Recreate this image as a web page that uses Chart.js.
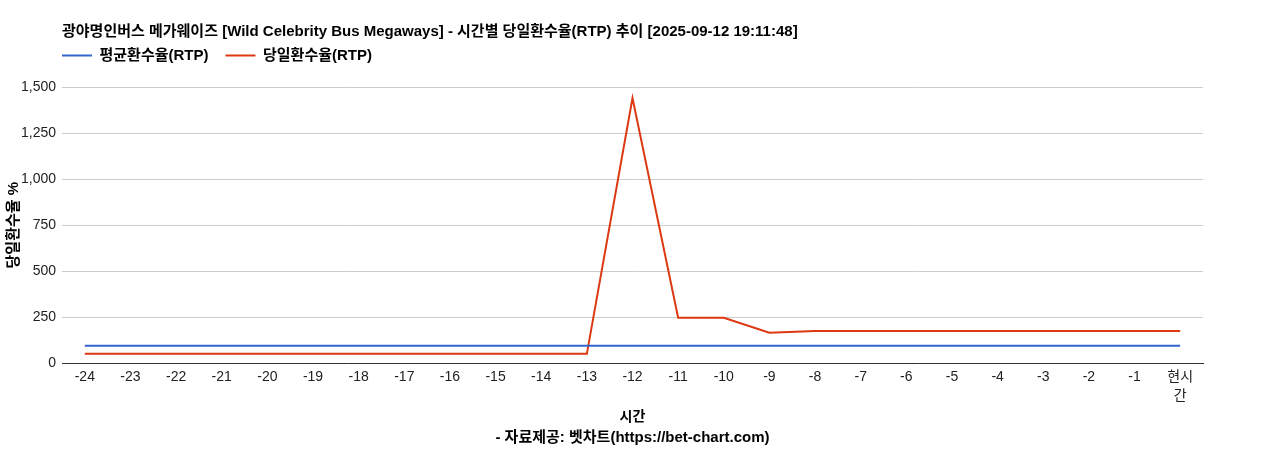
<!DOCTYPE html>
<html>
<head>
<meta charset="utf-8">
<script src="https://cdn.jsdelivr.net/npm/chart.js@4"></script>
<style>
  body { margin: 0; background: #fff; }
  #wrap { width: 1268px; height: 450px; }
</style>
</head>
<body>
<div id="wrap"><canvas id="rtpChart" width="1268" height="450"></canvas></div>
<script>
const hours = ["-24", "-23", "-22", "-21", "-20", "-19", "-18", "-17", "-16", "-15", "-14", "-13",
  "-12", "-11", "-10", "-9", "-8", "-7", "-6", "-5", "-4", "-3", "-2", "-1", ["현시", "간"]];
const avgRtp = [96, 96, 96, 96, 96, 96, 96, 96, 96, 96, 96, 96,
  96, 96, 96, 96, 96, 96, 96, 96, 96, 96, 95.5, 95.5, 95.5];
const dailyRtp = [52, 52, 52, 52, 52, 52, 52, 52, 52, 52, 52, 52,
  1440, 248, 248, 167, 176, 176, 176, 176, 176, 176, 176, 176, 176];
const yTicks = [0, 250, 500, 750, 1000, 1250, 1500];

const titleText = "광야명인버스 메가웨이즈 [Wild Celebrity Bus Megaways] - 시간별 당일환수율(RTP) 추이 [2025-09-12 19:11:48]";
const footerText = "- 자료제공: 벳차트(https://bet-chart.com)";
const FONT = "Arial, 'Liberation Sans', 'Noto Sans CJK KR', sans-serif";
const LEGEND_GAP = 17;

// nudge title/legend into place after chart.js has laid out the boxes
const headerNudge = {
  id: "headerNudge",
  afterLayout(chart) {
    if (chart.titleBlock) chart.titleBlock.top -= 4;
    if (chart.legend) {
      chart.legend.left -= LEGEND_GAP;
      chart.legend.top -= 14;
    }
  },
};

const ctx = document.getElementById("rtpChart");
new Chart(ctx, {
  type: "line",
  data: {
    labels: hours,
    datasets: [
      {
        label: "평균환수율(RTP)",
        data: avgRtp,
        borderColor: "#3366cc",
        backgroundColor: "#3366cc",
        borderWidth: 2,
        pointRadius: 0,
        tension: 0,
      },
      {
        label: "당일환수율(RTP)",
        data: dailyRtp,
        borderColor: "#dc3912",
        backgroundColor: "#dc3912",
        borderWidth: 2,
        pointRadius: 0,
        tension: 0,
      },
    ],
  },
  plugins: [headerNudge],
  options: {
    responsive: false,
    animation: false,
    layout: { padding: { top: 27, right: 65, bottom: 3, left: 0 } },
    plugins: {
      title: {
        display: true,
        text: titleText,
        align: "start",
        fullSize: false,
        color: "#000",
        font: { family: FONT, size: 15, weight: "bold" },
        padding: { top: 0, bottom: 0 },
      },
      subtitle: {
        display: true,
        text: footerText,
        position: "bottom",
        fullSize: false,
        color: "#000",
        font: { family: FONT, size: 15, weight: "bold" },
        padding: { top: 3, bottom: 0 },
      },
      legend: {
        align: "start",
        fullSize: false,
        labels: {
          usePointStyle: true,
          pointStyle: "line",
          pointStyleWidth: 30,
          padding: LEGEND_GAP,
          color: "#000",
          font: { family: FONT, size: 15, weight: "bold" },
        },
      },
      tooltip: { enabled: false },
    },
    scales: {
      x: {
        offset: true,
        grid: { display: false, drawTicks: false },
        border: { color: "#333", width: 1 },
        ticks: {
          color: "#222",
          font: { family: FONT, size: 14, lineHeight: 1.35 },
          maxRotation: 0,
          autoSkip: false,
          padding: 4,
        },
        title: {
          display: true,
          text: "시간",
          color: "#000",
          font: { family: FONT, size: 14, weight: "bold" },
          padding: { top: 0, bottom: 0 },
        },
      },
      y: {
        min: 0,
        max: 1500,
        afterBuildTicks: (scale) => {
          scale.ticks = yTicks.map((v) => ({ value: v }));
        },
        afterFit: (scale) => {
          scale.width = 62;
        },
        grid: { color: "#cccccc", drawTicks: false },
        border: { display: false },
        ticks: {
          color: "#222",
          font: { family: FONT, size: 14 },
          padding: 6,
          callback: (v) => v.toLocaleString("en-US"),
        },
        title: {
          display: true,
          text: "당일환수율 %",
          color: "#000",
          font: { family: FONT, size: 15, weight: "bold" },
          padding: { top: 5, bottom: 0 },
        },
      },
    },
  },
});
</script>
</body>
</html>
